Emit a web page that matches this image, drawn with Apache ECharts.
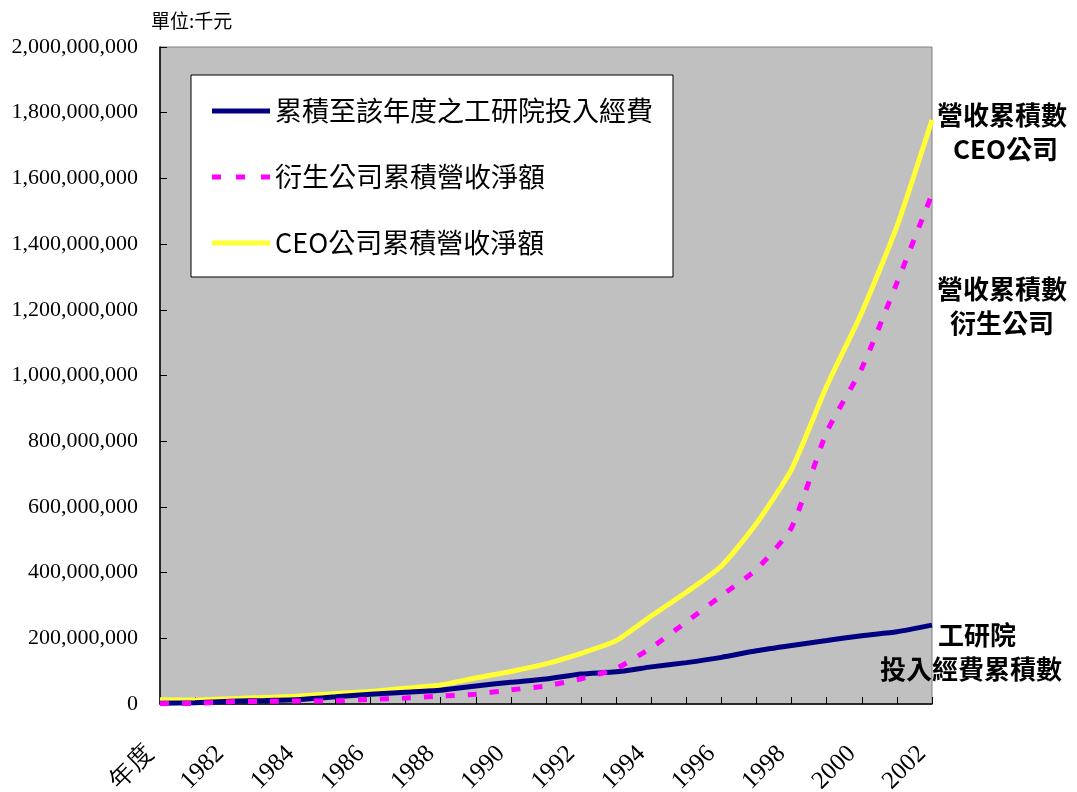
<!DOCTYPE html>
<html>
<head>
<meta charset="utf-8">
<script src="https://cdn.jsdelivr.net/npm/echarts@6/dist/echarts.min.js"></script>
<style>
html,body{margin:0;padding:0;background:#fff;}
#chart{width:1077px;height:792px;}
</style>
</head>
<body>
<div id="chart"></div>
<script>
// Categories (x axis) — first entry is the header cell "年度"
const categories = ['年度','1981','1982','1983','1984','1985','1986','1987','1988','1989','1990','1991','1992','1993','1994','1995','1996','1997','1998','1999','2000','2001','2002'];

// Values in 千元 (thousand NT$)
const itriFunding = [2e6,4e6,8e6,11e6,14e6,22e6,30e6,36e6,42e6,55e6,66e6,76e6,91e6,98e6,113e6,126e6,142e6,162e6,178e6,193e6,208e6,220e6,240e6];
const spinoffRevenue = [1e6,2e6,7e6,8e6,9e6,10e6,14e6,18e6,24e6,30e6,43e6,55e6,77e6,108e6,171e6,250e6,330e6,410e6,538e6,828e6,1022e6,1282e6,1552e6];
const ceoRevenue = [13e6,12e6,16e6,20e6,24e6,32e6,38e6,48e6,58e6,79e6,99e6,122e6,154e6,193e6,268e6,340e6,420e6,550e6,715e6,968e6,1192e6,1454e6,1778e6];

const seriesNames = ['累積至該年度之工研院投入經費','衍生公司累積營收淨額','CEO公司累積營收淨額'];

const yTicks = { min: 0, max: 2000000000, interval: 200000000 };

const serif = '"Liberation Serif","DejaVu Serif",serif';
const cjk = '"Noto Sans CJK TC","Noto Sans CJK SC",sans-serif';

function fmt(v){ return String(v).replace(/\B(?=(\d{3})+(?!\d))/g, ','); }

const solidIcon = 'path://M0,0H58V5H0Z';
const dashIcon = 'path://M0,0H9V5H0Z M24,0H33V5H24Z M49,0H58V5H49Z';

const chart = echarts.init(document.getElementById('chart'), null, {renderer:'canvas'});
chart.setOption({
  animation: false,
  backgroundColor: '#ffffff',
  title: {
    text: '單位:千元',
    left: 146, top: 6,
    textStyle: { fontFamily: cjk, fontSize: 19, fontWeight: 'normal', color: '#000' }
  },
  grid: {
    left: 160, right: 145, top: 47, bottom: 88,
    outerBoundsMode: 'none', containLabel: false,
    show: true, backgroundColor: '#C0C0C0', borderColor: '#808080', borderWidth: 1
  },
  legend: {
    orient: 'vertical',
    left: 191, top: 75,
    width: 488, height: 168,
    backgroundColor: '#ffffff',
    borderColor: '#000000', borderWidth: 1,
    padding: [18, 20, 16, 21],
    itemGap: 30,
    itemWidth: 58, itemHeight: 5,
    textStyle: { fontFamily: cjk, fontSize: 27, color: '#000', lineHeight: 36 },
    data: [
      { name: seriesNames[0], icon: solidIcon },
      { name: seriesNames[1], icon: dashIcon },
      { name: seriesNames[2], icon: solidIcon }
    ]
  },
  xAxis: {
    type: 'category',
    data: categories,
    boundaryGap: false,
    axisLine: { lineStyle: { color: '#000', width: 1.5 } },
    axisTick: { inside: true, length: 7, interval: 0, lineStyle: { color: '#000' } },
    axisLabel: {
      interval: 1, rotate: 45, margin: 36, padding: [0, 14, 0, 0],
      fontFamily: serif, fontSize: 25, color: '#000'
    },
    splitLine: { show: false }
  },
  yAxis: {
    type: 'value',
    min: yTicks.min, max: yTicks.max, interval: yTicks.interval,
    axisLine: { show: true, lineStyle: { color: '#000', width: 1.5 } },
    axisTick: { show: true, inside: true, length: 7, lineStyle: { color: '#000' } },
    axisLabel: { margin: 22, fontFamily: serif, fontSize: 22, color: '#000', formatter: fmt },
    splitLine: { show: false }
  },
  series: [
    {
      name: seriesNames[0], type: 'line', data: itriFunding,
      symbol: 'none', smooth: 0.2, z: 3,
      lineStyle: { color: '#000080', width: 5 },
      itemStyle: { color: '#000080' }
    },
    {
      name: seriesNames[1], type: 'line', data: spinoffRevenue,
      symbol: 'none', smooth: 0.2, z: 4,
      lineStyle: { color: '#FF00FF', width: 5, type: [9, 13] },
      itemStyle: { color: '#FF00FF' }
    },
    {
      name: seriesNames[2], type: 'line', data: ceoRevenue,
      symbol: 'none', smooth: 0.2, z: 2,
      lineStyle: { color: '#FFFF33', width: 5 },
      itemStyle: { color: '#FFFF33' }
    }
  ],
  graphic: [
    { type: 'text', left: 937, top: 102, style: { text: '營收累積數', font: 'bold 26px ' + cjk, fill: '#000' } },
    { type: 'text', left: 953, top: 136, style: { text: 'CEO公司', font: 'bold 26px ' + cjk, fill: '#000' } },
    { type: 'text', left: 937, top: 276, style: { text: '營收累積數', font: 'bold 26px ' + cjk, fill: '#000' } },
    { type: 'text', left: 950, top: 310, style: { text: '衍生公司', font: 'bold 26px ' + cjk, fill: '#000' } },
    { type: 'text', left: 938, top: 622, style: { text: '工研院', font: 'bold 26px ' + cjk, fill: '#000' } },
    { type: 'text', left: 880, top: 656, style: { text: '投入經費累積數', font: 'bold 26px ' + cjk, fill: '#000' } }
  ]
});
</script>
</body>
</html>
